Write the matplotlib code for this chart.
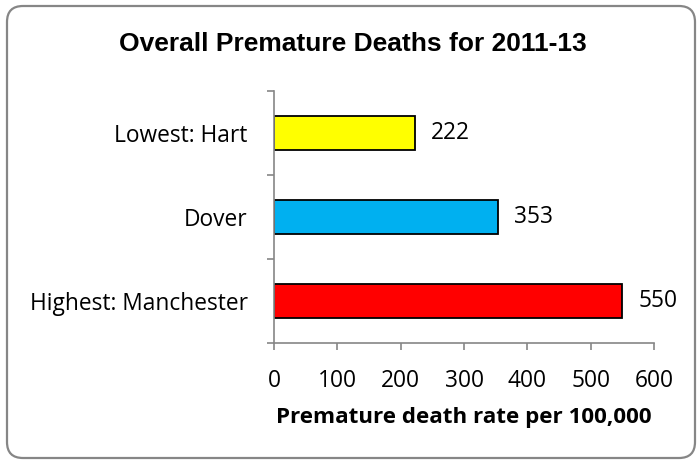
import matplotlib.pyplot as plt
from matplotlib.patches import FancyBboxPatch

labels = ["Highest: Manchester", "Dover", "Lowest: Hart"]
values = [550, 353, 222]
colors = ["#FF0000", "#00B0F0", "#FFFF00"]
xticks = [0, 100, 200, 300, 400, 500, 600]

body = ["Open Sans", "DejaVu Sans"]
fs = 16.4

fig = plt.figure(figsize=(6.97, 4.61), dpi=100)
ax = fig.add_axes([274 / 697, 1 - 343 / 461, 380 / 697, 252 / 461])

pos = list(range(len(labels)))
ax.barh(pos, values, height=0.4, color=colors, edgecolor="black", linewidth=1.3)
for p, v in zip(pos, values):
    ax.text(v + 26, p, str(v), va="center", ha="left", fontsize=fs, family=body)

ax.set_xlim(0, 600)
ax.set_ylim(-0.5, 2.5)
ax.set_xticks(xticks)
ax.set_xticklabels([str(t) for t in xticks], fontsize=fs, family=body)
ax.set_yticks(pos)
ax.set_yticklabels(labels, fontsize=fs, family=body)
ax.set_yticks([-0.5, 0.5, 1.5, 2.5], minor=True)

axis_grey = "#868686"
for s in ["top", "right"]:
    ax.spines[s].set_visible(False)
for s in ["left", "bottom"]:
    ax.spines[s].set_color(axis_grey)
    ax.spines[s].set_linewidth(1.2)
ax.tick_params(axis="y", which="major", length=0, pad=19)
ax.tick_params(axis="y", which="minor", length=5, color=axis_grey, width=1.2)
ax.tick_params(axis="x", which="major", length=5, color=axis_grey, width=1.2, pad=14)

ax.set_xlabel("Premature death rate per 100,000", fontsize=16.1, fontweight="bold",
              family=body, labelpad=10)

fig.text(353 / 697, 1 - 51 / 461, "Overall Premature Deaths for 2011-13", ha="center",
         va="baseline", fontsize=19, fontweight="bold", family="Liberation Sans")

frame = FancyBboxPatch((0.07, 0.03), 6.88, 4.52,
                       boxstyle="round,pad=0,rounding_size=0.16",
                       transform=fig.dpi_scale_trans, fill=False,
                       edgecolor="#868686", linewidth=1.6)
fig.patches.append(frame)

fig.savefig("out.png", dpi=100)
